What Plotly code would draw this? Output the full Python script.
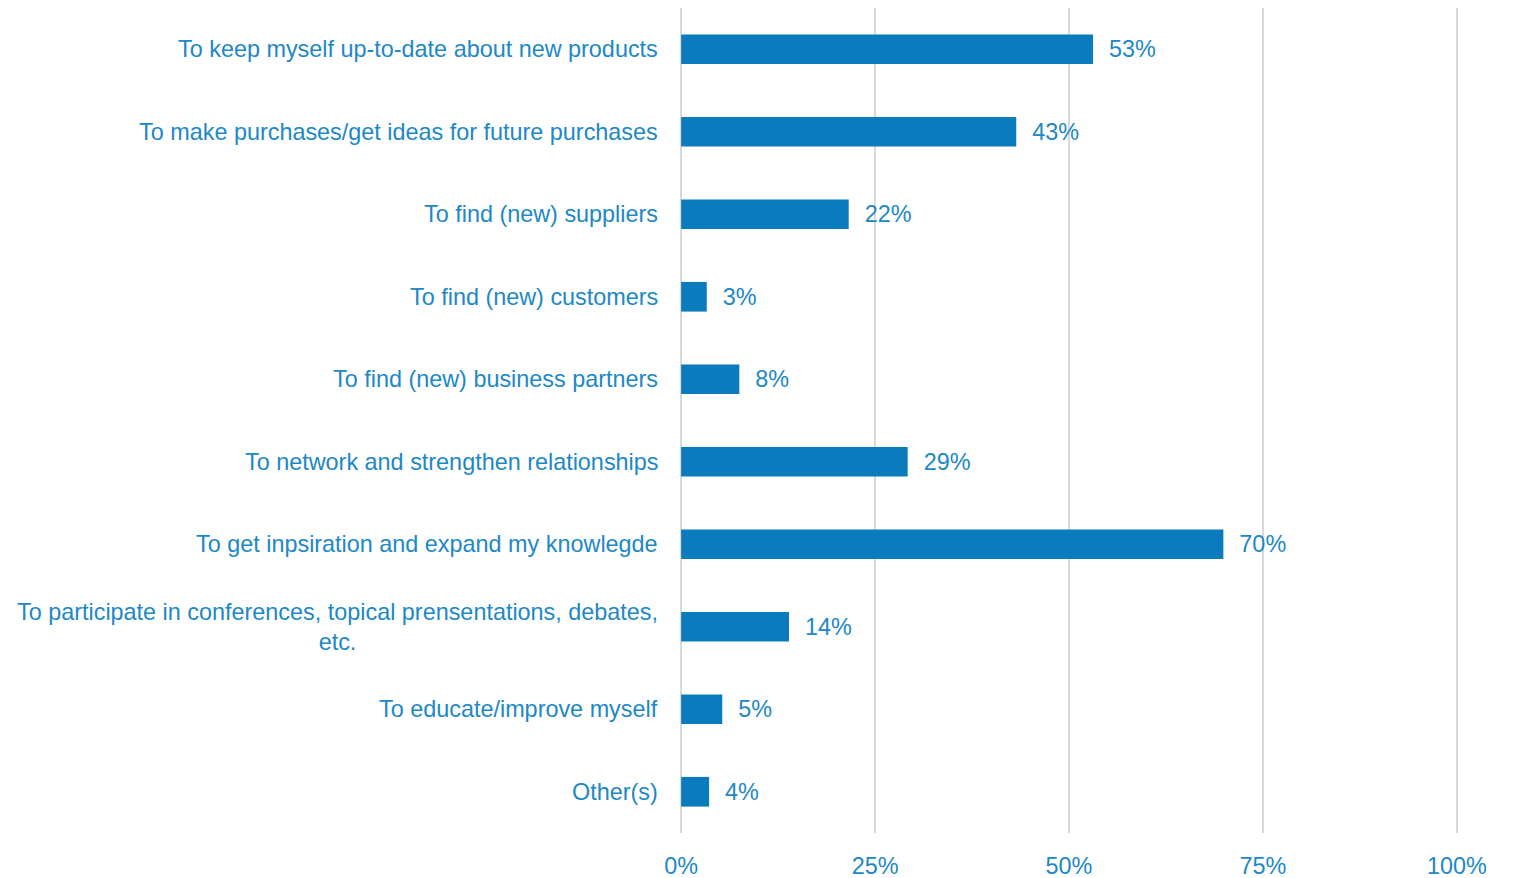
import plotly.graph_objects as go

categories = [
    "To keep myself up-to-date about new products",
    "To make purchases/get ideas for future purchases",
    "To find (new) suppliers",
    "To find (new) customers",
    "To find (new) business partners",
    "To network and strengthen relationships",
    "To get inpsiration and expand my knowlegde",
    "To participate in conferences, topical prensentations, debates,<br>etc.",
    "To educate/improve myself",
    "Other(s)",
]
values = [53.1, 43.2, 21.6, 3.3, 7.5, 29.2, 69.9, 13.9, 5.3, 3.6]
labels = ["53%", "43%", "22%", "3%", "8%", "29%", "70%", "14%", "5%", "4%"]
x_ticks = [0, 25, 50, 75, 100]
x_tick_text = ["0%", "25%", "50%", "75%", "100%"]

bar_color = "#0a7bbd"
text_color = "#2088c7"
font = "Liberation Sans, Arial, sans-serif"
fsize = 23.4

fig = go.Figure(go.Bar(
    x=values,
    y=categories,
    orientation="h",
    marker=dict(color=bar_color, line=dict(width=0)),
    text=["\u00a0\u00a0" + t for t in labels],
    textposition="outside",
    textfont=dict(color=text_color, size=fsize, family=font),
    cliponaxis=False,
))

# category labels as annotations so the wrapped one can be centred
for cat in categories:
    fig.add_annotation(
        x=0, y=cat, xref="x", yref="y",
        text=cat, showarrow=False,
        xanchor="right", align="center", xshift=-21,
        font=dict(color=text_color, size=fsize, family=font),
    )

fig.update_layout(
    width=1519, height=878,
    margin=dict(l=672, r=69, t=0, b=53),
    plot_bgcolor="white", paper_bgcolor="white",
    bargap=0.64,
    showlegend=False,
    font=dict(family=font, color=text_color, size=fsize),
)
fig.update_xaxes(
    range=[-0.15, 100.15], tickvals=x_ticks, ticktext=x_tick_text,
    showgrid=True, gridcolor="#d9d9d9", gridwidth=2,
    zeroline=False, showline=False,
    ticklabelstandoff=17,
    tickfont=dict(color=text_color, size=fsize, family=font),
)
fig.update_yaxes(
    autorange="reversed", showticklabels=False,
    showgrid=False, zeroline=False, showline=False,
)

fig.write_html("out.html")
